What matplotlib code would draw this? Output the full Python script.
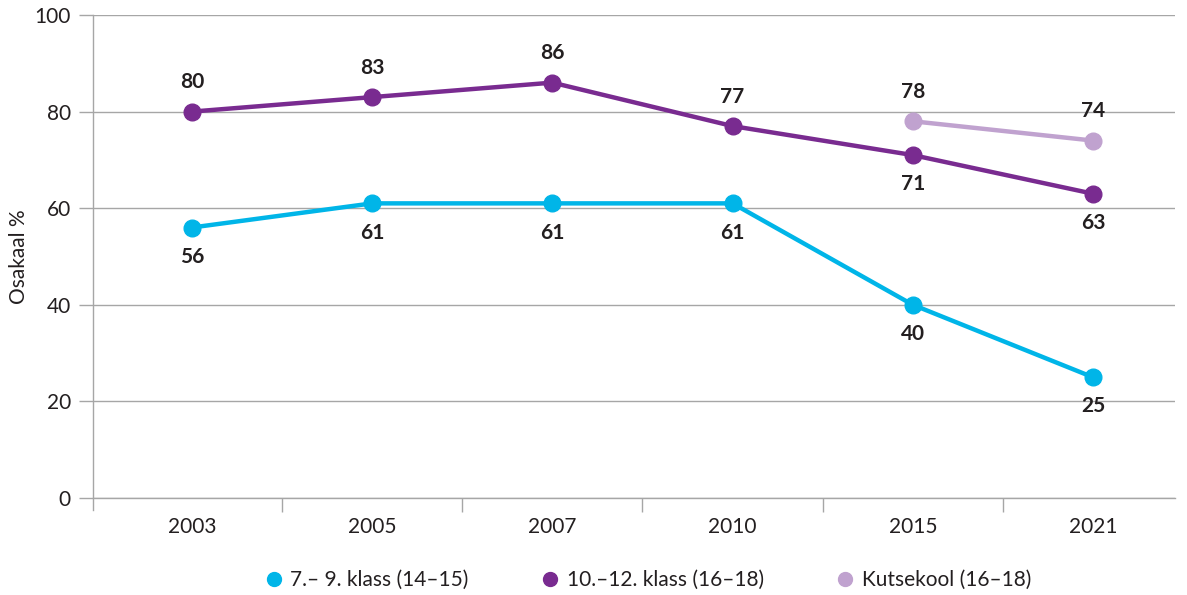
import matplotlib.pyplot as plt
import numpy as np

plt.rcParams['font.family'] = ['Lato', 'DejaVu Sans']

years = ['2003', '2005', '2007', '2010', '2015', '2021']
klass_7_9 = [56, 61, 61, 61, 40, 25]
klass_10_12 = [80, 83, 86, 77, 71, 63]
kutsekool = [None, None, None, None, 78, 74]

# label placement: +1 above, -1 below
pos_7_9 = [-1, -1, -1, -1, -1, -1]
pos_10_12 = [1, 1, 1, 1, -1, -1]
pos_kutse = [None, None, None, None, 1, 1]

c_cyan = '#00B5E8'
c_purple = '#792B90'
c_light = '#C0A2CF'
grid_c = '#A6A6A6'
txt_c = '#231F20'

fig = plt.figure(figsize=(11.87, 5.95), dpi=100)
ax = fig.add_axes([93 / 1187, 1 - 498 / 595, (1175 - 93) / 1187, (498 - 15) / 595])

x = np.arange(len(years))

def draw(vals, pos, color, label):
    xs = [i for i, v in enumerate(vals) if v is not None]
    ys = [v for v in vals if v is not None]
    ax.plot(xs, ys, color=color, lw=3.2, marker='o', ms=12, zorder=3,
            solid_capstyle='round', label=label)
    for i in xs:
        ax.annotate(str(vals[i]), (i, vals[i]), xytext=(0, 21 * pos[i]),
                    textcoords='offset points', ha='center', va='center',
                    fontsize=15, fontweight='bold', color=txt_c)

draw(klass_7_9, pos_7_9, c_cyan, '7.– 9. klass (14–15)')
draw(klass_10_12, pos_10_12, c_purple, '10.–12. klass (16–18)')
draw(kutsekool, pos_kutse, c_light, 'Kutsekool (16–18)')

ax.set_ylim(0, 100)
ax.set_xlim(-0.549, 5.455)
ax.set_yticks(range(0, 101, 20))
ax.yaxis.grid(True, color=grid_c, lw=1)
ax.set_axisbelow(True)

ax.set_xticks(x)
ax.set_xticklabels(years)
ax.set_xticks(np.arange(0.5, 5.5, 1.0), minor=True)
ax.tick_params(axis='x', which='major', length=0, pad=14, labelsize=15, labelcolor=txt_c)
ax.tick_params(axis='x', which='minor', length=10, color=grid_c, width=1)
ax.tick_params(axis='y', length=10, color=grid_c, width=1, pad=6, labelsize=15, labelcolor=txt_c)

for s in ['top', 'right']:
    ax.spines[s].set_visible(False)
for s in ['left', 'bottom']:
    ax.spines[s].set_color(grid_c)
    ax.spines[s].set_linewidth(1)
ax.spines['left'].set_bounds(-2.5, 100)

ax.set_ylabel('Osakaal %', fontsize=15, color=txt_c, labelpad=4)

leg = ax.legend(loc='center', bbox_to_anchor=(0.514, -0.17), ncol=3, frameon=False,
                fontsize=15, handlelength=0.6, handletextpad=0.5, columnspacing=3.6)
for h in leg.legend_handles:
    h.set_linestyle('none')
    h.set_markersize(10)
for t in leg.get_texts():
    t.set_color(txt_c)

fig.savefig('out.png', dpi=100)
